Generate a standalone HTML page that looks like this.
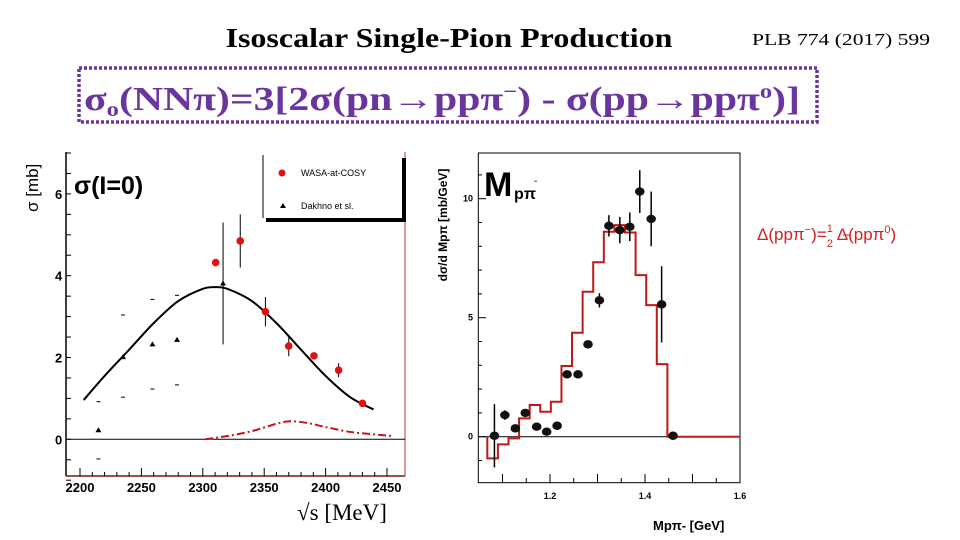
<!DOCTYPE html>
<html><head><meta charset="utf-8"><style>
html,body{margin:0;padding:0;background:#fff;}
svg{display:block;}
</style></head><body>
<svg id="s" width="960" height="540" viewBox="0 0 960 540" xmlns="http://www.w3.org/2000/svg" font-family="Liberation Sans, sans-serif">
<text x="449" y="47" text-anchor="middle" font-family="Liberation Serif, serif" font-weight="bold" font-size="27" textLength="447" lengthAdjust="spacingAndGlyphs">Isoscalar Single-Pion Production</text>
<text x="752" y="45" font-family="Liberation Serif, serif" font-size="17" textLength="178" lengthAdjust="spacingAndGlyphs">PLB 774 (2017) 599</text>
<rect x="79" y="68" width="738" height="54" fill="none" stroke="#6b35a0" stroke-width="3.5" stroke-dasharray="3,2"/>
<text x="84" y="110" font-family="Liberation Serif, serif" font-weight="bold" font-size="34" fill="#6b35a0" textLength="716" lengthAdjust="spacingAndGlyphs">σ<tspan font-size="20" dy="6">o</tspan><tspan dy="-6">(NNπ)=3[2σ(pn→ppπ</tspan><tspan font-size="20" dy="-12">−</tspan><tspan dy="12">) - σ(pp→ppπ</tspan><tspan font-size="20" dy="-12">o</tspan><tspan dy="12">)]</tspan></text>

<g id="left"></g>
<g id="right"></g>

<text x="757" y="240" font-size="17" fill="#d42020">Δ(ppπ<tspan font-size="11" dy="-7">−</tspan><tspan dy="7">)=</tspan><tspan font-size="11" dy="-8">1</tspan><tspan font-size="11" dy="15" dx="-6">2</tspan><tspan dy="-7"> Δ(ppπ</tspan><tspan font-size="11" dy="-7">0</tspan><tspan dy="7">)</tspan></text>
<line x1="843" y1="235" x2="851" y2="235" stroke="#d42020" stroke-width="1"/>
</svg>
<script>
// ---------- Left chart data ----------
const wasaS = [2310.5, 2330.5, 2351, 2370, 2390.5, 2410.6, 2430];
const wasaV = [4.32, 4.85, 3.12, 2.28, 2.04, 1.69, 0.88];
const wasaE = [0, 0.65, 0.36, 0.25, 0.08, 0.17, 0];
const dakS = [2215, 2235, 2259, 2279, 2316.5];
const dakV = [0.22, 2.01, 2.32, 2.43, 3.81];
const dakHi = [0.92, 3.04, 3.42, 3.52, 5.3];
const dakLo = [-0.48, 1.03, 1.23, 1.33, 2.32];
const fitS = [2203, 2220, 2240, 2260, 2280, 2300, 2310, 2320, 2340, 2360, 2380, 2400, 2420, 2439];
const fitV = [0.96, 1.55, 2.19, 2.84, 3.38, 3.68, 3.72, 3.68, 3.38, 2.84, 2.19, 1.55, 1.03, 0.73];
const bgS = [2302, 2320, 2340, 2360, 2371, 2385, 2400, 2420, 2440, 2454];
const bgV = [0, 0.08, 0.2, 0.38, 0.44, 0.4, 0.3, 0.18, 0.12, 0.08];
const leftXTicks = [2200, 2250, 2300, 2350, 2400, 2450];
const leftYTicks = [0, 2, 4, 6];

// ---------- Right chart data ----------
const histStart = 1.068;
const histWidth = 0.0223;
const histV = [-0.91, -0.32, -0.07, 0.77, 1.33, 1.05, 1.47, 2.97, 4.37, 6.09, 7.33, 8.61, 8.89, 8.58, 6.79, 5.53, 3.05];
const mX = [1.083, 1.105, 1.127, 1.148, 1.172, 1.193, 1.215, 1.236, 1.259, 1.28, 1.304, 1.324, 1.347, 1.368, 1.389, 1.413, 1.435, 1.459];
const mV = [0.04, 0.91, 0.35, 1.0, 0.42, 0.21, 0.46, 2.62, 2.62, 3.88, 5.73, 8.86, 8.68, 8.82, 10.3, 9.15, 5.56, 0.04];
const mE = [1.33, 0.2, 0, 0, 0, 0, 0, 0, 0, 0, 0.3, 0.45, 0.55, 0.6, 0.9, 1.15, 1.6, 0];
const rightXTicks = [1.2, 1.4, 1.6];
const rightYTicks = [0, 5, 10];

const NS = 'http://www.w3.org/2000/svg';
function mk(parent, tag, attrs, text) {
  const e = document.createElementNS(NS, tag);
  for (const k in attrs) e.setAttribute(k, attrs[k]);
  if (text !== undefined) e.textContent = text;
  parent.appendChild(e);
  return e;
}
function smoothPath(p) {
  let d = 'M' + p[0][0] + ',' + p[0][1];
  for (let i = 0; i < p.length - 1; i++) {
    const p0 = p[i - 1] || p[i], p1 = p[i], p2 = p[i + 1], p3 = p[i + 2] || p2;
    const c1x = p1[0] + (p2[0] - p0[0]) / 6, c1y = p1[1] + (p2[1] - p0[1]) / 6;
    const c2x = p2[0] - (p3[0] - p1[0]) / 6, c2y = p2[1] - (p3[1] - p1[1]) / 6;
    d += ` C${c1x},${c1y} ${c2x},${c2y} ${p2[0]},${p2[1]}`;
  }
  return d;
}

// Left axes
const L = document.getElementById('left');
const lx = s => 80 + (s - 2200) * 1.228;
const ly = v => 439.3 - v * 40.9;
let e;
e = mk(L, 'line', {x1: 66, y1: 152, x2: 66, y2: 476, stroke: '#000', 'stroke-width': 1.5});


e = mk(L, 'line', {x1: 66, y1: 476, x2: 405, y2: 476, stroke: '#7a1515', 'stroke-width': 1.5});


e = mk(L, 'line', {x1: 405, y1: 152, x2: 405, y2: 476, stroke: '#b33', 'stroke-width': 1});


e = mk(L, 'line', {x1: 66, y1: ly(0), x2: 405, y2: ly(0), stroke: '#000', 'stroke-width': 1});


leftXTicks.forEach(t => {
  e = mk(L, 'line', {x1: lx(t), y1: 476, x2: lx(t), y2: 468, stroke: '#000'});
  
  
  e = mk(L, 'text', {x: lx(t), y: 492, 'text-anchor': 'middle', 'font-size': 13, 'font-weight': 'bold'}, String(t));
  
  
});
for (let t = 2210; t < 2460; t += 10) {
  if (t % 50 === 0) continue;
  e = mk(L, 'line', {x1: lx(t), y1: 476, x2: lx(t), y2: 472, stroke: '#000'});
  
  
}
leftYTicks.forEach(t => {
  e = mk(L, 'text', {x: 55, y: ly(t) + 5, 'font-size': 13, 'font-weight': 'bold'}, String(t));
  
  
});
for (let t = -1; t <= 7; t += 0.5) {
  e = mk(L, 'line', {x1: 66, y1: ly(t), x2: 71, y2: ly(t), stroke: '#000'});
  
  
}
// fit curve
e = mk(L, 'path', {d: smoothPath(fitS.map((s, i) => [lx(s), ly(fitV[i])])), fill: 'none', stroke: '#000', 'stroke-width': 2});


e = mk(L, 'path', {d: smoothPath(bgS.map((s, i) => [lx(s), ly(bgV[i])])), fill: 'none', stroke: '#c01818', 'stroke-width': 2, 'stroke-dasharray': '8,3,2,3'});


// Dakhno
dakS.forEach((s, i) => {
  if (i === dakS.length - 1) {
    e = mk(L, 'line', {x1: lx(s), y1: ly(dakHi[i]), x2: lx(s), y2: ly(dakLo[i]), stroke: '#000'});
    
    
  } else {
    [dakHi[i], dakLo[i]].forEach(v => {
      e = mk(L, 'line', {x1: lx(s) - 2, y1: ly(v), x2: lx(s) + 2, y2: ly(v), stroke: '#000'});
      
      
    });
  }
  const x = lx(s), y = ly(dakV[i]);
  e = mk(L, 'polygon', {points: `${x},${y - 3} ${x - 3},${y + 2} ${x + 3},${y + 2}`, fill: '#000'});
  
  
});
// WASA
wasaS.forEach((s, i) => {
  if (wasaE[i] > 0) {
    e = mk(L, 'line', {x1: lx(s), y1: ly(wasaV[i] + wasaE[i]), x2: lx(s), y2: ly(wasaV[i] - wasaE[i]), stroke: '#000'});
    
    
  }
  e = mk(L, 'circle', {cx: lx(s), cy: ly(wasaV[i]), r: 3.8, fill: '#e01010'});
  
  
});
// legend
e = mk(L, 'rect', {x: 266, y: 158, width: 140, height: 64, fill: '#000'});


e = mk(L, 'rect', {x: 263, y: 155, width: 139, height: 63, fill: '#fff'});


e = mk(L, 'line', {x1: 263, y1: 155, x2: 263, y2: 218, stroke: '#000'});


e = mk(L, 'circle', {cx: 282, cy: 173, r: 3.5, fill: '#e01010'});


e = mk(L, 'text', {x: 301, y: 176, 'font-size': 9}, 'WASA-at-COSY');


e = mk(L, 'polygon', {points: '283,203 280,208 286,208', fill: '#000'});


e = mk(L, 'text', {x: 301, y: 209, 'font-size': 9}, 'Dakhno et sl.');


e = mk(L, 'text', {x: 74, y: 194, 'font-size': 25, 'font-weight': 'bold'}, 'σ(I=0)');


e = mk(L, 'text', {x: 0, y: 0, 'font-size': 17, transform: 'translate(38,212) rotate(-90)'}, 'σ [mb]');


e = mk(L, 'text', {x: 297, y: 520, 'font-size': 23, 'font-family': 'Liberation Serif, serif'}, '√s  [MeV]');



// Right chart
const R = document.getElementById('right');
const rx = m => 550 + (m - 1.2) * 475;
const ry = v => 436.7 - v * 23.8;
e = mk(R, 'rect', {x: 478.3, y: 153, width: 261.7, height: 329.7, fill: 'none', stroke: '#000', 'stroke-width': 1});


e = mk(R, 'line', {x1: 478.3, y1: ry(0), x2: 740, y2: ry(0), stroke: '#000'});


for (let t = 1.1; t < 1.6; t += 0.05) {
  const big = Math.abs(t * 10 - Math.round(t * 10)) < 0.01;
  e = mk(R, 'line', {x1: rx(t), y1: 482.7, x2: rx(t), y2: big ? 474 : 478, stroke: '#000'});
  
  
}
rightXTicks.forEach(t => {
  e = mk(R, 'text', {x: rx(t), y: 499, 'text-anchor': 'middle', 'font-size': 9, 'font-weight': 'bold'}, t.toFixed(1));
  
  
});
rightYTicks.forEach(t => {
  e = mk(R, 'text', {x: 473, y: ry(t) + 3, 'text-anchor': 'end', 'font-size': 9, 'font-weight': 'bold'}, String(t));
  
  
});
for (let t = -1; t <= 11; t++) {
  e = mk(R, 'line', {x1: 478.3, y1: ry(t), x2: t % 5 === 0 ? 486 : 482, y2: ry(t), stroke: '#000'});
  
  
}
// histogram
let pts = [];
histV.forEach((v, i) => {
  const x0 = rx(histStart + i * histWidth), x1 = rx(histStart + (i + 1) * histWidth);
  if (i === 0) pts.push(x0 + ',' + ry(0));
  pts.push(x0 + ',' + ry(v));
  pts.push(x1 + ',' + ry(v));
});
pts.push(rx(histStart + histV.length * histWidth) + ',' + ry(0));
pts.push('740,' + ry(0));
e = mk(R, 'polyline', {points: pts.join(' '), fill: 'none', stroke: '#c01818', 'stroke-width': 2});


mX.forEach((m, i) => {
  if (mE[i] > 0) {
    e = mk(R, 'line', {x1: rx(m), y1: ry(mV[i] + mE[i]), x2: rx(m), y2: ry(mV[i] - mE[i]), stroke: '#000', 'stroke-width': 1.5});
    
    
  }
  e = mk(R, 'ellipse', {cx: rx(m), cy: ry(mV[i]), rx: 4.8, ry: 4.2, fill: '#111'});
  
  
});
e = mk(R, 'text', {x: 484, y: 196, 'font-size': 34, 'font-weight': 'bold'}, 'M');


e = mk(R, 'text', {x: 514, y: 199, 'font-size': 16, 'font-weight': 'bold'}, 'pπ');


e = mk(R, 'text', {x: 534, y: 184, 'font-size': 10}, '-');


e = mk(R, 'text', {x: 0, y: 0, 'font-size': 12, 'font-weight': 'bold', 'text-anchor': 'middle', transform: 'translate(447,225) rotate(-90)'}, 'dσ/d Mpπ [mb/GeV]');


e = mk(R, 'text', {x: 653, y: 530, 'font-size': 13, 'font-weight': 'bold'}, 'Mpπ- [GeV]');


</script>
</body></html>
